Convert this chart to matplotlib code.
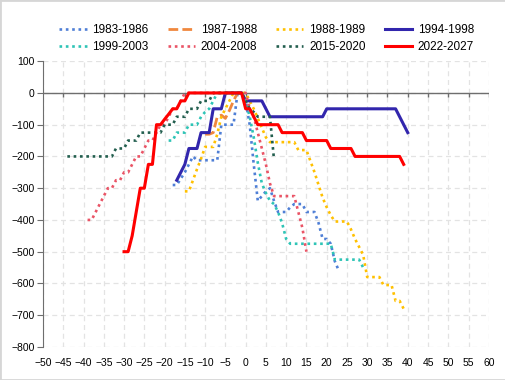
import matplotlib
matplotlib.use("Agg")
import matplotlib.pyplot as plt
from matplotlib.patches import Rectangle

plt.rcParams['font.family'] = ['Liberation Sans', 'DejaVu Sans']

# ---- data (x = months relative to the peak, y = drawdown) ----
x_1983 = list(range(-18, 24))
y_1983 = [-290, -290, -270, -250, -225, -200, -212, -212, -212, -212, -212, -212,
          -100, -100, -100, -100, 0, 0, -25, -100, -225, -340, -325, -310, -300,
          -340, -375, -375, -375, -360, -350, -350, -350, -375, -375, -375, -410,
          -460, -460, -475, -530, -560]

x_1987 = list(range(-10, 1))
y_1987 = [-130, -130, -125, -75, -70, -80, -55, -25, 0, 0, -25]

x_1988 = list(range(-15, 40))
y_1988 = [-310, -310, -275, -240, -207, -170, -170, -170, -130, -75, -50, -25,
          0, 0, 0, 0, -25, -50, -80, -110, -140, -155, -155, -155, -155, -155,
          -155, -155, -180, -180, -180, -215, -250, -290, -330, -360, -385, -405,
          -405, -405, -405, -430, -460, -485, -510, -580, -580, -580, -580, -605,
          -605, -605, -655, -655, -680]

x_1994 = list(range(-17, 41))
y_1994 = [-275, -250, -225, -175, -175, -175, -125, -125, -125, -50, -50, -50,
          0, 0, 0, 0, 0, -25, -25, -25, -25, -25, -50, -75, -75, -75, -75, -75,
          -75, -75, -75, -75, -75, -75, -75, -75, -75, -50, -50, -50, -50, -50,
          -50, -50, -50, -50, -50, -50, -50, -50, -50, -50, -50, -50, -50, -75,
          -100, -125]

x_1999 = list(range(-19, 30))
y_1999 = [-150, -150, -125, -125, -125, -100, -100, -100, -75, -60, -50, -25,
          0, 0, 0, 0, 0, 0, 0, -25, -75, -140, -220, -285, -315, -340, -350,
          -375, -410, -460, -475, -475, -475, -475, -475, -475, -475, -475, -475,
          -475, -475, -525, -525, -525, -525, -525, -525, -525, -550]

x_2004 = list(range(-39, 16))
y_2004 = [-400, -400, -375, -350, -325, -300, -300, -275, -275, -250, -250, -225,
          -200, -200, -175, -150, -150, -125, -100, -100, -75, -50, -50, -25,
          0, 0, 0, 0, 0, 0, 0, 0, 0, 0, 0, 0, 0, 0, 0, 0, -50, -75, -125, -175,
          -225, -285, -325, -325, -325, -325, -325, -325, -375, -425, -500]

x_2015 = list(range(-44, 8))
y_2015 = [-200, -200, -200, -200, -200, -200, -200, -200, -200, -200, -200, -200,
          -175, -175, -175, -150, -150, -150, -125, -125, -125, -125, -125, -125,
          -100, -100, -100, -75, -75, -75, -50, -50, -50, -25, -25, -25,
          0, 0, 0, 0, 0, 0, 0, 0, -25, -50, -60, -75, -75, -75, -75, -210]

x_2022 = list(range(-30, 40))
y_2022 = [-500, -500, -450, -375, -300, -300, -225, -225, -100, -100, -83, -67,
          -50, -50, -25, -25, 0, 0, 0, 0, 0, 0, 0, 0, 0, 0, 0, 0, 0, 0, -50, -50,
          -75, -100, -100, -100, -100, -100, -100, -125, -125, -125, -125, -125,
          -125, -150, -150, -150, -150, -150, -150, -175, -175, -175, -175, -175,
          -175, -200, -200, -200, -200, -200, -200, -200, -200, -200, -200, -200,
          -200, -225]

x_ticks = list(range(-50, 61, 5))
y_ticks = list(range(-800, 101, 100))

series = [
    ("1983-1986", x_1983, y_1983, "#4f7fd6", (0, (1, 1.4)), 1.9),
    ("1987-1988", x_1987, y_1987, "#f0883e", (0, (3.5, 1.5)), 2.0),
    ("1988-1989", x_1988, y_1988, "#ffc000", (0, (1, 1.4)), 1.9),
    ("1994-1998", x_1994, y_1994, "#3226ad", "-", 2.2),
    ("1999-2003", x_1999, y_1999, "#2ec4b6", (0, (1, 1.4)), 1.9),
    ("2004-2008", x_2004, y_2004, "#ea5466", (0, (1, 1.4)), 1.9),
    ("2015-2020", x_2015, y_2015, "#225e4e", (0, (1, 1.4)), 1.9),
    ("2022-2027", x_2022, y_2022, "#ff0000", "-", 2.2),
]

fig = plt.figure(figsize=(5.06, 3.80), dpi=100)
ax = fig.add_axes([0.085, 0.087, 0.881, 0.752])

lines = []
for label, xs, ys, color, ls, lw in series:
    ln, = ax.plot(xs, ys, color=color, linestyle=ls, linewidth=lw, label=label, zorder=3)
    lines.append(ln)

ax.set_xlim(-50, 60)
ax.set_ylim(-800, 100)
ax.set_xticks(x_ticks)
ax.set_yticks(y_ticks)
ax.grid(True, color="#e3e3e3", linestyle=(0, (4, 3)), linewidth=0.9)
ax.set_axisbelow(True)

for side in ["top", "right", "bottom"]:
    ax.spines[side].set_visible(False)
ax.spines["left"].set_color("#6e6e6e")
ax.tick_params(axis="y", length=4, color="#6e6e6e", labelsize=7.5, pad=2)
ax.tick_params(axis="x", length=0, labelsize=7.5, pad=8)

# the x axis line sits on y = 0, with ticks hanging down from it
ax.axhline(0, color="#6e6e6e", linewidth=1, zorder=2)
ax.vlines(x_ticks[1:], -13, 0, color="#6e6e6e", linewidth=1, zorder=2)

# legend filled row by row (matplotlib fills columns first)
order = [0, 4, 1, 5, 2, 6, 3, 7]
fig.legend([lines[i] for i in order], [lines[i].get_label() for i in order],
           loc="upper center", bbox_to_anchor=(0.527, 0.965), ncol=4, frameon=False,
           fontsize=8.5, handlelength=2.3, handletextpad=0.5, columnspacing=1.6,
           labelspacing=0.4)

fig.patches.append(Rectangle((0, 0), 1, 1, transform=fig.transFigure, fill=False,
                             edgecolor="#d6d6d6", linewidth=2))

fig.savefig("out.png", dpi=100)
